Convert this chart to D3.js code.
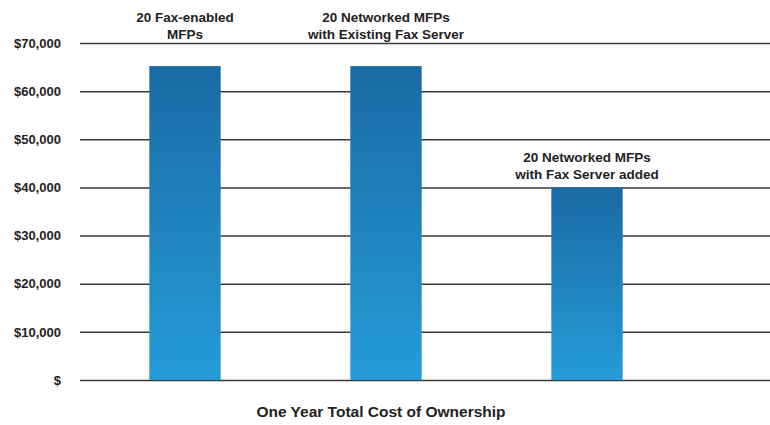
<!DOCTYPE html>
<html>
<head>
<meta charset="utf-8">
<script src="https://cdn.jsdelivr.net/npm/d3@7"></script>
<style>
  body { margin: 0; background: #fff; }
  text { font-family: "Liberation Sans", Arial, Helvetica, sans-serif; font-weight: bold; fill: #222; }
</style>
</head>
<body>
<div id="chart"></div>
<script>
// chart data
const categories = [
    ['20 Fax-enabled', 'MFPs'],
    ['20 Networked MFPs', 'with Existing Fax Server'],
    ['20 Networked MFPs', 'with Fax Server added']
];
const costs = [65200, 65200, 40000];
const yTicks = [0, 10000, 20000, 30000, 40000, 50000, 60000, 70000];
const chartTitle = 'One Year Total Cost of Ownership';

const width = 770, height = 425;
const plotLeft = 80, plotRight = 770, plotTop = 43, plotBottom = 380;

const svg = d3.select('#chart')
    .append('svg')
    .attr('width', width)
    .attr('height', height);

// Bar gradient, dark at top, lighter at the bottom
const grad = svg.append('defs').append('linearGradient')
    .attr('id', 'barGrad')
    .attr('x1', 0).attr('y1', 0).attr('x2', 0).attr('y2', 1);
grad.append('stop').attr('offset', '0%').attr('stop-color', '#1a6aa4');
grad.append('stop').attr('offset', '100%').attr('stop-color', '#259cd8');

// Scales
const x = d3.scaleBand()
    .domain(d3.range(categories.length))
    .range([85, 687])
    .paddingInner(0.645)
    .paddingOuter(0.32);

const y = d3.scaleLinear()
    .domain([0, 70000])
    .range([plotBottom, plotTop]);

// Y axis with gridlines
const yAxis = svg.append('g')
    .attr('transform', 'translate(' + plotLeft + ',0)')
    .call(d3.axisLeft(y)
        .tickValues(yTicks)
        .tickSize(-(plotRight - plotLeft))
        .tickPadding(19)
        .tickFormat(d => d === 0 ? '$' : '$' + d3.format(',')(d)));

yAxis.select('.domain').remove();
yAxis.selectAll('.tick line')
    .attr('stroke', '#3a3a3a')
    .attr('stroke-width', 1.5);
yAxis.selectAll('.tick text')
    .style('font-size', '13px')
    .style('font-family', '"Liberation Sans", Arial, sans-serif')
    .style('font-weight', 'bold')
    .attr('fill', '#222');

// Bars
svg.selectAll('.bar')
    .data(costs)
    .enter()
    .append('rect')
    .attr('class', 'bar')
    .attr('x', (d, i) => x(i))
    .attr('y', d => y(d))
    .attr('width', x.bandwidth())
    .attr('height', d => plotBottom - y(d))
    .attr('fill', 'url(#barGrad)');

// Category labels above bars (moved above the top gridline when there is no room)
const labels = svg.selectAll('.cat-label')
    .data(categories)
    .enter()
    .append('text')
    .attr('class', 'cat-label')
    .attr('text-anchor', 'middle')
    .style('font-size', '13.5px')
    .attr('transform', (d, i) => {
        let base = y(costs[i]) - 8;
        if (base - 32 < plotTop) base = plotTop - 4;
        return 'translate(' + (x(i) + x.bandwidth() / 2) + ',' + base + ')';
    });

labels.append('tspan')
    .attr('x', 0)
    .attr('dy', -17)
    .text(d => d[0]);
labels.append('tspan')
    .attr('x', 0)
    .attr('dy', 17)
    .text(d => d[1]);

// Title below the chart
svg.append('text')
    .attr('x', 381)
    .attr('y', 417)
    .attr('text-anchor', 'middle')
    .style('font-size', '15.5px')
    .text(chartTitle);
</script>
</body>
</html>
